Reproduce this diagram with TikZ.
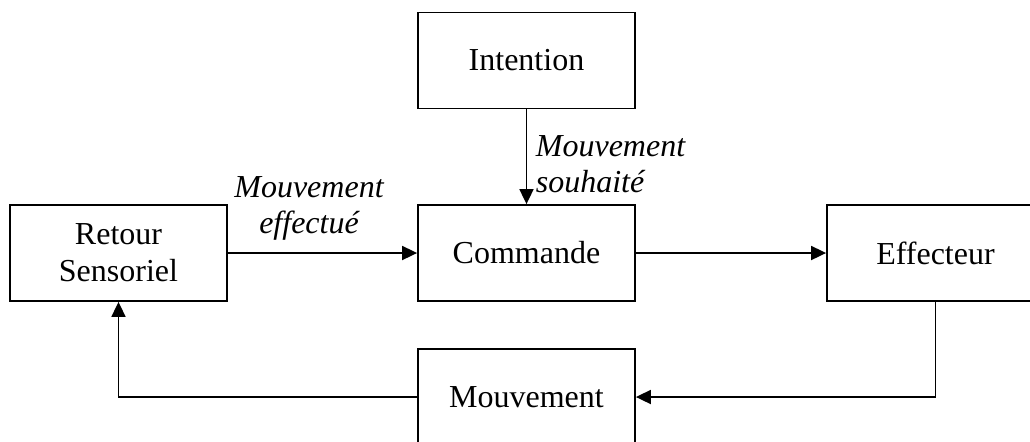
\documentclass[tikz,border=0pt]{standalone}
\usepackage{fontspec}
\setmainfont{Liberation Serif}
\usetikzlibrary{arrows.meta,positioning}

\begin{document}
\begin{tikzpicture}[x=0.5pt,y=-0.5pt,line width=0.9pt]
		\useasboundingbox (0,0) rectangle (1030,441);
		\clip (0,0) rectangle (1030,441);

		\begin{scope}[every node/.style={draw,rectangle,align=center,
				minimum width=108.5pt,minimum height=48pt,inner sep=0pt,
				font=\fontsize{16}{18.5}\selectfont}]
			\node (int) at (526.5,60.5) {Intention};
			\node (com) at (526.5,253) {Commande};
			\node (ret) at (118.5,253) {Retour\\Sensoriel};
			\node (eff) at (935.5,253) {Effecteur};
			\node (mvt) at (526.5,397) {Mouvement};
		\end{scope}

		\begin{scope}[every node/.style={font=\fontsize{16}{18}\selectfont\itshape,inner sep=0pt}]
			\node[align=center] (lbleff) at (309,208) {Mouvement\\effectué};
			\node[align=left,anchor=west] (lblsouh) at (535,164) {Mouvement\\souhaité};
		\end{scope}

		\begin{scope}[>={Triangle[length=7.5pt,width=7pt]}]
			\draw[->] (int) -- (com);
			\draw[->] (ret) -- (com);
			\draw[->] (com) -- (eff);
			\draw[->] (eff.south) |- (mvt.east);
			\draw[->] (mvt.west) -| (ret.south);
		\end{scope}
	\end{tikzpicture}
\end{document}
